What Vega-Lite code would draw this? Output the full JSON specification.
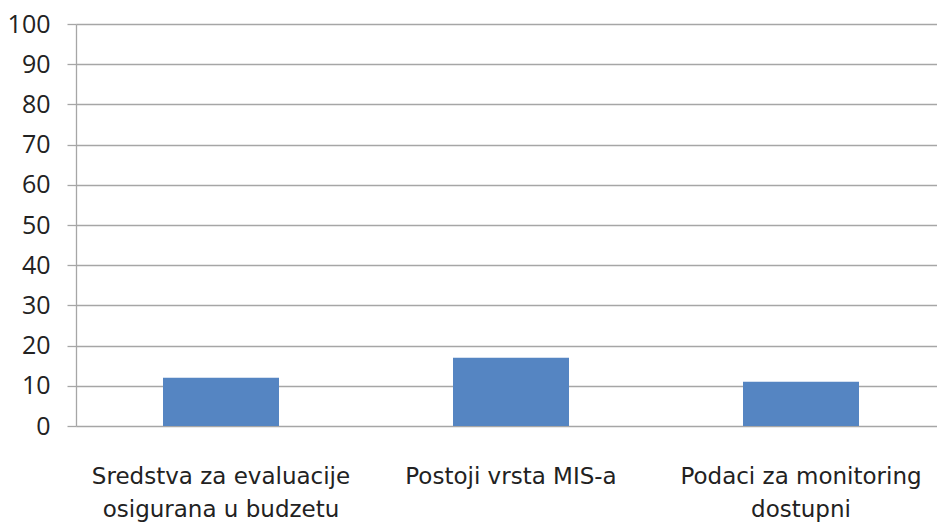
{
  "$schema": "https://vega.github.io/schema/vega-lite/v6.json",
  "width": 870,
  "height": 402,
  "autosize": "none",
  "padding": {"left": 76, "top": 24, "right": 0, "bottom": 98},
  "background": "white",
  "config": {"view": {"stroke": null}},
  "data": {"values": [
    {"category": "Sredstva za evaluacije osigurana u budzetu", "value": 12},
    {"category": "Postoji vrsta MIS-a", "value": 17},
    {"category": "Podaci za monitoring dostupni", "value": 11}
  ]},
  "mark": {"type": "bar", "color": "#5585C2"},
  "encoding": {
    "x": {
      "field": "category", "type": "nominal", "sort": null,
      "scale": {"paddingInner": 0.6, "paddingOuter": 0.3},
      "axis": {
        "title": null, "labelAngle": 0, "domain": false, "ticks": false,
        "labelFont": "DejaVu Sans", "labelFontSize": 23, "labelColor": "#222222",
        "labelPadding": 39, "labelExpr": "datum.value == 'Sredstva za evaluacije osigurana u budzetu' ? ['Sredstva za evaluacije', 'osigurana u budzetu'] : datum.value == 'Podaci za monitoring dostupni' ? ['Podaci za monitoring', 'dostupni'] : datum.value",
        "labelLineHeight": 33, "labelLimit": 400
      }
    },
    "y": {
      "field": "value", "type": "quantitative",
      "scale": {"domain": [0, 100], "nice": false},
      "axis": {
        "title": null, "values": [0,10,20,30,40,50,60,70,80,90,100],
        "grid": true, "gridColor": "#a6a6a6", "gridWidth": 1.3,
        "domainColor": "#a6a6a6", "domainWidth": 1.3,
        "tickColor": "#a6a6a6", "tickSize": 9, "tickWidth": 1.3,
        "labelFont": "Open Sans", "labelFontSize": 25, "labelColor": "#222222",
        "labelPadding": 17
      }
    }
  }
}
